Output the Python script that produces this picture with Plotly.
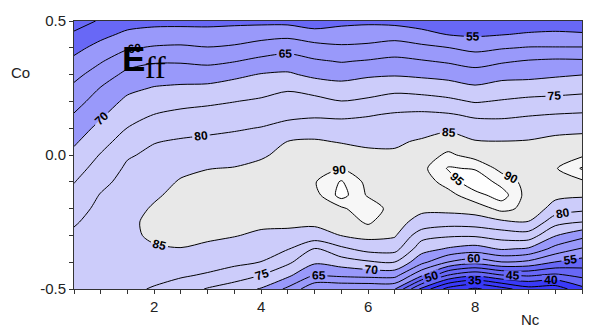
import plotly.graph_objects as go

# Grid axes
nc = [0.5, 1.0, 1.5, 2.0, 2.5, 3.0, 3.5, 4.0, 4.5, 5.0,
      5.5, 6.0, 6.5, 7.0, 7.5, 8.0, 8.5, 9.0, 9.5, 10.0]
co = [-0.5, -0.45, -0.4, -0.35, -0.3, -0.25, -0.2, -0.15, -0.1, -0.05,
      0.0, 0.05, 0.1, 0.15, 0.2, 0.25, 0.3, 0.35, 0.4, 0.45, 0.5]

# Efficiency, one row per Co value (bottom to top), one column per Nc value
eff = [
    [83.5, 83.5, 81.0, 79.6, 77.6, 74.6, 72.3, 69.6, 63.9, 56.0, 55.5, 55.5, 55.2, 38.5, 28.0, 24.0, 28.0, 33.0, 32.0, 38.5],
    [83.8, 84.0, 82.3, 81.3, 80.5, 79.4, 77.5, 74.8, 70.9, 64.7, 65.8, 66.4, 66.5, 55.4, 44.3, 40.5, 44.3, 45.4, 43.7, 46.2],
    [84.0, 84.4, 83.3, 82.9, 82.7, 82.0, 81.1, 79.9, 75.9, 70.8, 72.4, 74.3, 74.9, 66.4, 59.8, 56.8, 59.8, 58.8, 54.8, 52.9],
    [82.5, 84.4, 84.2, 84.5, 84.9, 84.2, 83.3, 82.1, 80.3, 74.8, 79.0, 81.8, 81.8, 72.1, 69.5, 68.0, 70.6, 69.4, 63.3, 59.6],
    [81.0, 83.4, 84.0, 85.8, 86.0, 85.7, 85.2, 84.3, 84.1, 83.3, 85.1, 86.4, 85.5, 76.9, 75.7, 75.7, 77.3, 77.9, 70.3, 66.6],
    [79.4, 82.3, 83.8, 86.4, 87.2, 87.2, 86.3, 85.9, 85.8, 85.9, 87.1, 90.8, 86.2, 83.8, 82.1, 82.5, 84.0, 84.8, 76.8, 75.0],
    [77.9, 81.3, 83.3, 85.5, 87.3, 87.9, 87.9, 87.2, 86.8, 86.9, 89.0, 94.0, 87.0, 85.7, 86.4, 87.2, 91.5, 88.5, 82.9, 81.2],
    [76.4, 80.3, 82.7, 84.4, 86.3, 87.2, 87.4, 88.5, 87.8, 87.9, 97.0, 89.3, 87.9, 86.6, 88.3, 93.0, 97.5, 87.5, 86.2, 85.7],
    [74.8, 78.7, 81.7, 83.3, 85.4, 86.1, 86.3, 87.3, 88.3, 89.6, 95.5, 88.3, 87.4, 87.4, 92.0, 99.0, 93.0, 88.0, 88.7, 89.0],
    [73.0, 77.0, 80.8, 82.2, 84.0, 84.9, 85.2, 86.0, 87.2, 88.0, 89.6, 87.1, 86.5, 88.4, 95.5, 94.5, 88.3, 87.2, 89.5, 95.5],
    [71.2, 75.3, 79.5, 81.0, 82.2, 83.0, 83.4, 84.5, 86.1, 86.7, 87.2, 85.8, 85.6, 87.2, 91.0, 87.8, 86.7, 86.2, 87.8, 89.1],
    [69.3, 73.3, 77.2, 79.8, 80.5, 81.0, 81.5, 82.3, 85.1, 85.5, 84.7, 84.3, 84.4, 85.5, 87.0, 85.3, 85.1, 85.3, 86.1, 86.6],
    [67.3, 71.4, 75.1, 77.4, 78.4, 78.9, 79.5, 80.2, 81.6, 82.7, 82.0, 82.0, 82.5, 83.3, 84.2, 82.4, 82.2, 82.8, 83.7, 83.9],
    [65.3, 69.3, 73.1, 75.1, 76.1, 76.6, 77.2, 78.0, 78.9, 79.2, 79.1, 79.7, 80.5, 80.9, 80.5, 79.2, 79.1, 79.7, 80.2, 80.5],
    [63.1, 67.3, 71.1, 72.7, 73.6, 74.2, 74.9, 75.7, 76.8, 76.5, 75.1, 75.9, 77.3, 77.1, 76.1, 74.6, 75.4, 76.2, 76.5, 77.1],
    [61.0, 65.2, 68.8, 70.3, 70.8, 71.1, 72.1, 73.1, 74.4, 73.0, 71.8, 72.6, 73.5, 72.9, 72.2, 70.8, 72.0, 72.4, 72.9, 73.3],
    [58.6, 62.4, 66.3, 67.5, 67.8, 67.6, 68.9, 70.3, 70.7, 68.9, 68.3, 69.3, 69.6, 69.1, 68.4, 67.1, 68.4, 68.6, 69.3, 69.9],
    [56.1, 59.6, 63.1, 64.5, 64.5, 63.9, 64.8, 66.3, 67.2, 65.6, 64.7, 65.4, 66.2, 65.4, 64.4, 63.1, 64.4, 65.4, 65.9, 65.7],
    [53.5, 56.7, 59.5, 60.5, 60.8, 60.2, 60.8, 62.3, 63.3, 62.0, 60.8, 61.2, 62.3, 61.2, 60.1, 58.6, 59.6, 60.3, 60.3, 60.3],
    [50.7, 53.6, 56.1, 56.9, 57.1, 56.9, 57.2, 58.1, 58.6, 56.8, 57.4, 57.6, 58.0, 56.6, 54.8, 54.3, 54.8, 55.5, 55.8, 55.5],
    [47.9, 50.5, 52.8, 53.5, 53.5, 53.5, 53.8, 53.7, 53.5, 52.5, 53.5, 54.0, 53.5, 52.5, 51.0, 51.0, 51.5, 52.0, 52.3, 52.0],
]

# Contour levels
level_start, level_end, level_step = 25, 95, 5

x_ticks = [2, 4, 6, 8, 10]
y_ticks = [-0.5, 0.0, 0.5]
y_tick_text = ["-0.5", "0.0", "0.5"]

# Stepped colour bands (band midpoints map from 22.5 to 97.5)
def frac(v):
    return (v - 22.5) / 75.0

bands = [
    (22.5, 40, "#3a3af8"),
    (40, 55, "#6868f6"),
    (55, 70, "#9999fa"),
    (70, 85, "#ccccfa"),
    (85, 90, "#e8e8e8"),
    (90, 95, "#f7f7f7"),
    (95, 97.5, "#ffffff"),
]
colorscale = []
for lo, hi, col in bands:
    colorscale.append([frac(lo), col])
    colorscale.append([frac(hi), col])

fig = go.Figure(
    go.Contour(
        x=nc, y=co, z=eff,
        contours=dict(
            start=level_start, end=level_end, size=level_step,
            coloring="fill", showlabels=True,
            labelfont=dict(family="Liberation Sans", size=12, color="black", weight="bold"),
        ),
        colorscale=colorscale,
        showscale=False,
        line=dict(color="black", width=1, smoothing=0.8),
        hoverinfo="skip",
    )
)

tick_font = dict(family="Liberation Sans", size=15, color="#222222")

fig.update_xaxes(
    range=[0.5, 10], tickvals=x_ticks, ticks="outside", ticklen=4, tickcolor="#333333",
    minor=dict(dtick=0.5, tick0=0, ticks="outside", ticklen=4, tickcolor="#333333"),
    showline=True, linecolor="#333333", linewidth=1, mirror=True,
    showgrid=False, zeroline=False, tickfont=tick_font,
)
fig.update_yaxes(
    range=[-0.5, 0.5], tickvals=y_ticks, ticktext=y_tick_text, ticks="outside", ticklen=4,
    tickcolor="#333333",
    minor=dict(dtick=0.1, tick0=0, ticks="outside", ticklen=4, tickcolor="#333333"),
    showline=True, linecolor="#333333", linewidth=1, mirror=True,
    showgrid=False, zeroline=False, tickfont=tick_font,
)

fig.add_annotation(x=1.38, y=0.36, xref="x", yref="y", text="E", showarrow=False,
                   xanchor="left", yanchor="middle", borderpad=0,
                   font=dict(family="Liberation Sans", size=35, color="black", weight="bold"))
fig.add_annotation(x=1.80, y=0.33, xref="x", yref="y", text="ff", showarrow=False,
                   xanchor="left", yanchor="middle", borderpad=0,
                   font=dict(family="Liberation Serif", size=32, color="black"))
fig.add_annotation(x=-0.106, y=0.806, xref="paper", yref="paper", text="Co", showarrow=False,
                   xanchor="center", yanchor="middle",
                   font=dict(family="Liberation Sans", size=15, color="#222222"))
fig.add_annotation(x=0.898, y=-0.112, xref="paper", yref="paper", text="Nc", showarrow=False,
                   xanchor="center", yanchor="middle",
                   font=dict(family="Liberation Sans", size=15, color="#222222"))

fig.update_layout(
    width=589, height=327,
    margin=dict(l=74, r=7, t=21, b=38),
    paper_bgcolor="white", plot_bgcolor="white",
    showlegend=False,
)

fig.write_html("out.html")
